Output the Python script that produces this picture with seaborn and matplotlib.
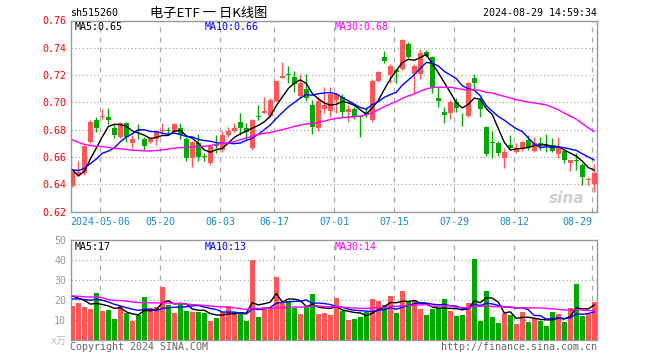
import numpy as np
import pandas as pd
import matplotlib
matplotlib.use("Agg")
import matplotlib.pyplot as plt
import seaborn as sns

# ---------------- data ----------------
opens = [0.639, 0.647, 0.648, 0.671, 0.687, 0.689, 0.689, 0.681, 0.675, 0.685,
         0.670, 0.680, 0.673, 0.671, 0.673, 0.679, 0.680, 0.678, 0.681, 0.673,
         0.659, 0.670, 0.661, 0.656, 0.669, 0.665, 0.676, 0.679, 0.686, 0.681,
         0.667, 0.690, 0.692, 0.690, 0.701, 0.718, 0.721, 0.7185, 0.705, 0.710,
         0.698, 0.681, 0.695, 0.694, 0.702, 0.704, 0.693, 0.695, 0.690, 0.693,
         0.687, 0.716, 0.733, 0.7204, 0.724, 0.7245, 0.743, 0.7205, 0.721, 0.737,
         0.733, 0.703, 0.693, 0.692, 0.700, 0.6925, 0.690, 0.718, 0.702, 0.682,
         0.671, 0.670, 0.6595, 0.6685, 0.6636, 0.667, 0.6725, 0.6646, 0.670, 0.669,
         0.669, 0.662, 0.6645, 0.6557, 0.6575, 0.654, 0.643, 0.640]
highs = [0.650, 0.657, 0.669, 0.687, 0.689, 0.695, 0.696, 0.684, 0.686, 0.686,
         0.676, 0.684, 0.675, 0.675, 0.680, 0.685, 0.682, 0.685, 0.685, 0.675,
         0.672, 0.677, 0.663, 0.669, 0.676, 0.679, 0.682, 0.685, 0.692, 0.685,
         0.688, 0.698, 0.704, 0.703, 0.716, 0.7297, 0.727, 0.723, 0.721, 0.721,
         0.702, 0.703, 0.711, 0.711, 0.707, 0.706, 0.698, 0.697, 0.690, 0.697,
         0.717, 0.723, 0.7375, 0.728, 0.7245, 0.7466, 0.744, 0.7285, 0.739, 0.7383,
         0.734, 0.711, 0.697, 0.702, 0.703, 0.6925, 0.715, 0.721, 0.704, 0.683,
         0.679, 0.672, 0.6665, 0.676, 0.670, 0.6715, 0.676, 0.675, 0.675, 0.677,
         0.674, 0.675, 0.665, 0.658, 0.663, 0.6555, 0.6457, 0.655]
lows = [0.638, 0.646, 0.647, 0.670, 0.678, 0.688, 0.684, 0.674, 0.674, 0.671,
        0.667, 0.673, 0.6655, 0.670, 0.669, 0.677, 0.676, 0.678, 0.673, 0.657,
        0.653, 0.657, 0.657, 0.654, 0.663, 0.664, 0.675, 0.678, 0.676, 0.673,
        0.665, 0.687, 0.692, 0.689, 0.700, 0.718, 0.714, 0.708, 0.703, 0.701,
        0.677, 0.679, 0.692, 0.689, 0.692, 0.689, 0.686, 0.688, 0.675, 0.689,
        0.686, 0.715, 0.729, 0.714, 0.714, 0.724, 0.7327, 0.707, 0.717, 0.7334,
        0.707, 0.697, 0.685, 0.688, 0.693, 0.6825, 0.689, 0.7095, 0.689, 0.6605,
        0.659, 0.6605, 0.652, 0.666, 0.663, 0.6645, 0.665, 0.664, 0.6655, 0.664,
        0.6635, 0.659, 0.656, 0.6495, 0.6507, 0.6396, 0.6397, 0.6347]
closes = [0.649, 0.649, 0.668, 0.686, 0.681, 0.690, 0.687, 0.676, 0.685, 0.675,
          0.673, 0.679, 0.668, 0.673, 0.679, 0.680, 0.679, 0.684, 0.676, 0.659,
          0.671, 0.660, 0.660, 0.668, 0.668, 0.676, 0.679, 0.681, 0.681, 0.678,
          0.687, 0.689, 0.694, 0.702, 0.716, 0.719, 0.720, 0.7136, 0.714, 0.703,
          0.682, 0.701, 0.698, 0.706, 0.706, 0.693, 0.6955, 0.689, 0.689, 0.691,
          0.716, 0.722, 0.730, 0.7265, 0.722, 0.7456, 0.7335, 0.727, 0.736, 0.734,
          0.711, 0.701, 0.691, 0.700, 0.696, 0.692, 0.714, 0.714, 0.6955, 0.662,
          0.670, 0.663, 0.6635, 0.667, 0.667, 0.671, 0.667, 0.6703, 0.669, 0.668,
          0.6645, 0.667, 0.6575, 0.6575, 0.657, 0.6457, 0.644, 0.648]
volumes = [17, 18.7, 16.5, 15.5, 23.7, 14.5, 15, 10.5, 17, 13.3,
           9.5, 12.5, 21.5, 16.2, 16.3, 26.5, 17.5, 13.5, 18, 14.5,
           14.2, 14.2, 13.5, 9.7, 11, 13.8, 17, 13.8, 12.8, 9.7,
           40, 11.5, 16.7, 16.7, 31.5, 18.3, 19.5, 16.2, 13.2, 16.7,
           23, 13.2, 13.7, 12.5, 21, 14.7, 10, 10.5, 11.5, 14.2,
           20.5, 19.5, 17.5, 22, 13.5, 24.5, 18.8, 20, 15.5, 12.5,
           15.5, 16, 20.5, 14.5, 12, 12.5, 18.5, 40.5, 9.7, 24.5,
           11.5, 8.5, 13.5, 12.5, 8, 14, 9, 11, 9.5, 7,
           14, 13, 9, 16, 28, 12, 12.8, 19]
# closes / volumes of the 29 sessions before the window (only feed the moving averages)
prior_closes = [0.706, 0.712, 0.708, 0.701, 0.697, 0.703, 0.699, 0.694, 0.690, 0.690,
                0.684, 0.678, 0.674, 0.668, 0.666, 0.664, 0.662, 0.664, 0.658, 0.655,
                0.655, 0.652, 0.650, 0.648, 0.648, 0.672, 0.652, 0.640, 0.641]
prior_volumes = [22, 24, 20, 23, 25, 44, 22, 21, 20, 23, 21, 22, 20, 19, 21, 22, 20, 21, 23, 22,
                 18, 20, 19, 19, 19, 24, 22, 25, 22]

tick_idx = [5, 15, 25, 34, 44, 54, 64, 74, 87]
tick_labels = ["2024-05-06", "05-20", "06-03", "06-17", "07-01", "07-15", "07-29", "08-12", "08-29"]
price_ticks = [0.62, 0.64, 0.66, 0.68, 0.70, 0.72, 0.74, 0.76]
vol_ticks = [0, 10, 20, 30, 40, 50]
ma_periods = [5, 10, 30]
ma_colors = ["black", "#0000ff", "#ff00ff"]
price_ma_text = ["0.65", "0.66", "0.68"]
vol_ma_text = ["17", "13", "14"]

# ---------------- styling ----------------
sns.set_style("white")
plt.rcParams["font.family"] = ["DejaVu Sans Mono", "Noto Sans CJK SC"]
RED = "#ff5757"
GREEN = "#00a800"
FRAME = "#999999"

n = len(closes)
idx = np.arange(n)
df = pd.DataFrame({"idx": idx, "open": opens, "high": highs, "low": lows,
                   "close": closes, "vol": volumes})
df["dir"] = np.where(df["close"] >= df["open"], "up", "down")

full_c = pd.Series(prior_closes + closes)
full_v = pd.Series(prior_volumes + volumes)
k = len(prior_closes)

W, H = 660, 360
fig = plt.figure(figsize=(6.6, 3.6), dpi=100)
fig.patch.set_facecolor("white")

def px_axes(x0, y0, x1, y1):
    return fig.add_axes([x0 / W, 1 - y1 / H, (x1 - x0) / W, (y1 - y0) / H])

ax = px_axes(70.7, 20.5, 597.3, 211.7)
axv = px_axes(70.7, 240.0, 597.3, 340.0)
xlim = (-0.27, 87.5)

# ---------- candles ----------
for _, r in df.iterrows():
    col = RED if r["dir"] == "up" else GREEN
    ax.vlines(r["idx"], r["low"], r["high"], color=col, lw=1.0, zorder=3)
    lo, hi = sorted([r["open"], r["close"]])
    ax.bar(r["idx"], max(hi - lo, 0.0004), bottom=lo, width=0.8, color=col,
           linewidth=0, zorder=4)

for p, c in zip(ma_periods, ma_colors):
    ma = full_c.rolling(p).mean().iloc[k:].to_numpy()
    sns.lineplot(x=idx, y=ma, color=c, lw=1.0, ax=ax, zorder=5)

ax.set_xlim(*xlim)
ax.set_ylim(0.62, 0.76)
ax.set_yticks(price_ticks)
ax.set_yticklabels([f"{t:.2f}" for t in price_ticks])
grid_x = [i - 0.33 for i in tick_idx]
ax.set_xticks(grid_x)
ax.set_xticklabels(tick_labels)
ax.tick_params(axis="y", length=0, pad=3.2, labelcolor="red", labelsize=7.2)
ax.tick_params(axis="x", length=0, pad=3.5, labelcolor="#1a88dd", labelsize=7.2)
ax.get_xticklabels()[-1].set_horizontalalignment("right")
ax.grid(axis="y", linestyle=(0, (1, 2)), color="#aaaaaa", lw=0.9)
ax.grid(axis="x", linestyle=(0, (4, 4)), color="#aaaaaa", lw=0.9)
ax.set_xlabel("")
ax.set_ylabel("")
for s in ax.spines.values():
    s.set_color(FRAME)
    s.set_linewidth(1.0)

# sina watermark
ax.text(0.975, 0.03, "sina", transform=ax.transAxes, ha="right", va="bottom",
        fontsize=11, fontweight="bold", style="italic", color="#bbbbbb",
        family="DejaVu Sans", alpha=0.7, zorder=2)

# ---------- volume ----------
sns.barplot(data=df, x="idx", y="vol", hue="dir", palette={"up": RED, "down": GREEN},
            native_scale=True, width=0.8, dodge=False, errorbar=None, saturation=1,
            legend=False, ax=axv, linewidth=0, zorder=3)
for p, c in zip(ma_periods, ma_colors):
    ma = full_v.rolling(p).mean().iloc[k:].to_numpy()
    sns.lineplot(x=idx, y=ma, color=c, lw=1.0, ax=axv, zorder=5)
axv.set_xlim(*xlim)
axv.set_ylim(0, 50)
axv.set_yticks(vol_ticks)
axv.set_yticklabels(["x万"] + [str(t) for t in vol_ticks[1:]])
axv.tick_params(axis="y", length=0, pad=3.2, labelcolor="#999999", labelsize=7.2)
axv.get_yticklabels()[0].set_color("#bbbbbb")
axv.set_xticks(grid_x)
axv.set_xticklabels([])
axv.tick_params(axis="x", length=0)
axv.grid(axis="y", linestyle=(0, (1, 2)), color="#aaaaaa", lw=0.9)
axv.grid(axis="x", linestyle=(0, (4, 4)), color="#aaaaaa", lw=0.9)
axv.set_xlabel("")
axv.set_ylabel("")
for s in axv.spines.values():
    s.set_color(FRAME)
    s.set_linewidth(1.0)

# ---------- texts ----------
def ptext(x, y, s, **kw):
    fig.text(x / W, 1 - y / H, s, va="center", **kw)

ptext(70, 13, "sh515260", ha="left", fontsize=7.2, color="black")
ptext(209, 13, "电子ETF 一 日K线图", ha="center", fontsize=9.5, color="black",
      family=["Noto Sans CJK SC", "DejaVu Sans"])
ptext(597, 13, "2024-08-29 14:59:34", ha="right", fontsize=7.2, color="black")

ma_x = [74.5, 205, 334.5]
for x, p, c, t in zip(ma_x, ma_periods, ma_colors, price_ma_text):
    ptext(x, 27.5, f"MA{p}:{t}", ha="left", fontsize=7.2, color=c)
for x, p, c, t in zip(ma_x, ma_periods, ma_colors, vol_ma_text):
    ptext(x, 246.5, f"MA{p}:{t}", ha="left", fontsize=7.2, color=c)

ptext(70, 347, "Copyright 2024 SINA.COM", ha="left", fontsize=7.2, color="#666666")
ptext(597, 347, "http://finance.sina.com.cn", ha="right", fontsize=7.2, color="#666666")

fig.savefig("out.png", dpi=100, facecolor="white")
